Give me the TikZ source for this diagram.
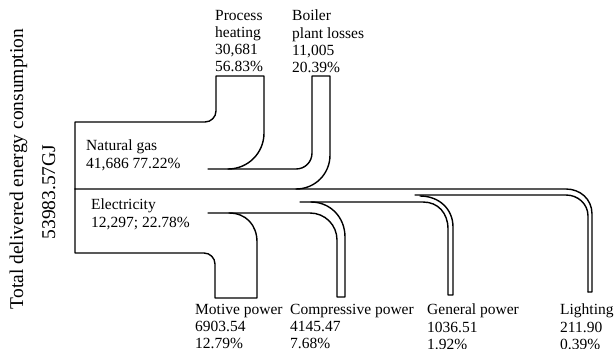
\documentclass[tikz,border=0pt]{standalone}
\usepackage{fontspec}
\setmainfont{Liberation Serif}
\begin{document}
\begin{tikzpicture}[x=1pt,y=-1pt,
  flow/.style={line width=1.4pt,line join=round,line cap=round},
  lbl/.style={anchor=north west,inner sep=0pt,align=left,font=\fontsize{15.5}{17.2}\selectfont},
  side/.style={rotate=90,anchor=base,inner sep=0pt,font=\fontsize{19.5}{22}\selectfont}]
\useasboundingbox (0,0) rectangle (615,348);
\fill[white] (0,0) rectangle (615,348);
% named corner points
\coordinate (boxTL) at (75,122);
\coordinate (boxML) at (75,189);
\coordinate (boxBL) at (75,253);
% natural gas top + process heating
\draw[flow] (boxML) -- (boxTL) -- (205,122) .. controls (211,122) and (216,117) .. (216,111) -- (216,76) -- (264,76) -- (264,133) .. controls (264,153) and (248,169) .. (228,169);
% natural gas bottom + boiler plant losses
\draw[flow] (208,169) -- (296,169) .. controls (305,169) and (312,162) .. (312,153) -- (312,76) -- (330,76) -- (330,155) .. controls (330,174) and (315,189) .. (296,189);
% divider + lighting outer
\draw[flow] (boxML) -- (566,189) .. controls (580,189) and (592,199) .. (592,214) -- (592,292) -- (588,292);
% lighting inner
\draw[flow] (415,195) -- (566,195) .. controls (578,195) and (588,204) .. (588,216) -- (588,292);
% general power
\draw[flow] (420,196) .. controls (439,196) and (453,209) .. (453,227) -- (453,295) -- (448,295) -- (448,229) .. controls (448,213) and (438,202) .. (423,202) -- (300,202);
% compressive power
\draw[flow] (311,202) .. controls (330,202) and (345,217) .. (345,237) -- (345,297) -- (337,297) -- (337,240) .. controls (337,225) and (325,213) .. (310,213) -- (208,213);
% motive power
\draw[flow] (boxML) -- (boxBL) -- (204,253) .. controls (210,253) and (215,258) .. (215,264) -- (215,298) -- (257,298) -- (257,242) .. controls (257,225) and (246,213) .. (229,213);
% labels
\node[lbl] (ph) at (215,10) {Process\\heating\\30,681\\56.83\%};
\node[lbl] (bl) at (292,10) {Boiler\\plant losses\\11,005\\20.39\%};
\node[lbl] (ng) at (86,140) {Natural gas\\41,686 77.22\%};
\node[lbl] (el) at (91,199) {Electricity\\12,297; 22.78\%};
\node[lbl] (mp) at (195,304) {Motive power\\6903.54\\12.79\%};
\node[lbl] (cp) at (290,304) {Compressive power\\4145.47\\7.68\%};
\node[lbl] (gp) at (427,304) {General power\\1036.51\\1.92\%};
\node[lbl] (lt) at (560,304) {Lighting\\211.90\\0.39\%};
\node[side] (tot) at (23,169) {Total delivered energy consumption};
\node[side] (val) at (55,192) {53983.57GJ};
\end{tikzpicture}
\end{document}
